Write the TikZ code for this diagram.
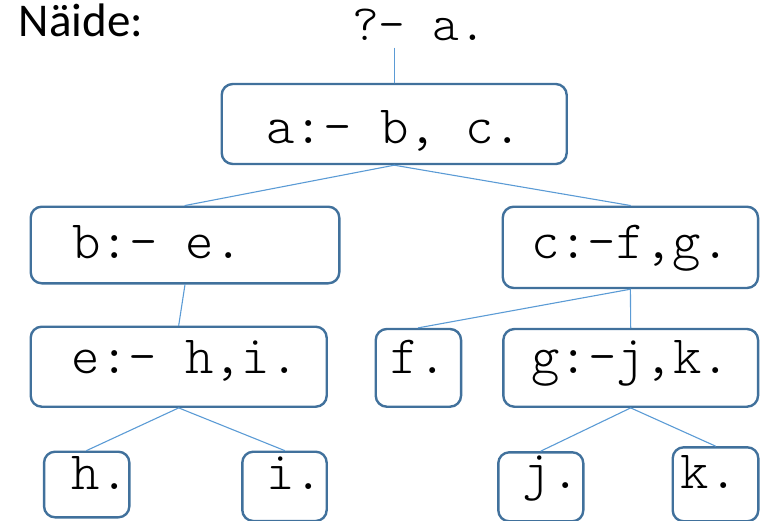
\documentclass[tikz,border=0pt]{standalone}
\usepackage{fontspec}
\setmainfont{Carlito}
\newfontfamily\codefont{Latin Modern Mono Light}
\definecolor{boxline}{HTML}{41719C}
\definecolor{treeline}{HTML}{5B9BD5}
\begin{document}
\begin{tikzpicture}[x=1pt, y=-1pt, line cap=round, line join=round,
  goal/.style={draw=boxline, line width=2.4pt, rounded corners=11pt, anchor=base,
    inner sep=0pt, font=\codefont\fontsize{54}{60}\selectfont},
  edge/.style={draw=treeline, line width=1.1pt}]
  \useasboundingbox (0,0) rectangle (765,520);

  % Title and query
  \node[anchor=base west, inner sep=0pt, font=\fontsize{47}{54}\selectfont] (title) at (18.5,36.7) {Näide:};
  \node[anchor=base west, inner xsep=0pt, inner ysep=8pt, font=\codefont\fontsize{51}{56}\selectfont] (query) at (352,40) {?-~a.};

  % Clause boxes
  \node[goal, minimum width=345, text height=59.3, text depth=20.7] (a) at (394.2,143.3) {a:-~b,~c.};
  \node[goal, minimum width=308.6, text height=51.6, text depth=25] (b) at (185,258.3) {b:-~e.\kern55pt};
  \node[goal, minimum width=255.3, text height=51.3, text depth=30] (c) at (630.4,258) {c:-f,g.};
  \node[goal, minimum width=296, text height=46.6, text depth=33.4] (e) at (178.7,373.3) {\kern13pt e:-~h,i.};
  \node[goal, minimum width=85.3, text height=44.3, text depth=33.4] (f) at (418.4,373.3) {f.};
  \node[goal, minimum width=254.7, text height=44.3, text depth=33.4] (g) at (630.7,373.3) {g:-j,k.};

  % Facts
  \node[goal, minimum width=85.3, text height=37.6, text depth=28] (h) at (86.7,489.3) {\kern27pt h.};
  \node[goal, minimum width=84.4, text height=37.3, text depth=32] (i) at (284.5,489) {\kern20pt i.};
  \node[goal, minimum width=85, text height=36, text depth=33] (j) at (540.8,488.3) {\kern21pt j.};
  \node[goal, minimum width=85.6, text height=41, text depth=33] (k) at (715.5,488.3) {k.\kern13pt};

  % Tree edges
  \draw[edge] (a.north) -- (a.north |- query.south);
  \draw[edge] (a.south) -- (b.north);
  \draw[edge] (a.south) -- (c.north);
  \draw[edge] (b.south) -- (e.north);
  \draw[edge] (c.south) -- (f.north);
  \draw[edge] (c.south) -- (g.north);
  \draw[edge] (e.south) -- (h.north);
  \draw[edge] (e.south) -- (i.north);
  \draw[edge] (g.south) -- (j.north);
  \draw[edge] (g.south) -- (k.north);
\end{tikzpicture}
\end{document}
